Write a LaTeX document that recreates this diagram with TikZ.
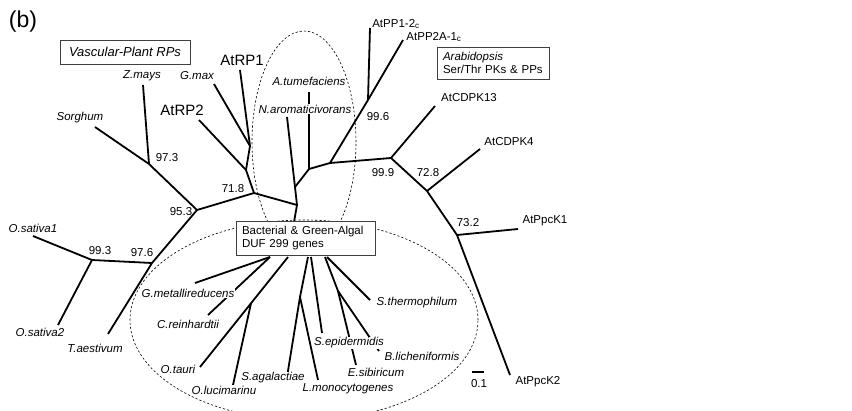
\documentclass[tikz,border=0pt]{standalone}
\usepackage{fontspec}
\setmainfont{Liberation Sans}
\usetikzlibrary{calc}
\tikzset{
  branch/.style={line width=1.8pt},
  clade/.style={line width=0.6pt,dash pattern=on 2.2pt off 2pt},
  sp/.style={font=\fontsize{11.5}{14}\selectfont\itshape,fill=white,inner sep=0.4pt},
  gene/.style={font=\fontsize{11.5}{14}\selectfont,inner sep=0.4pt},
  bignm/.style={font=\fontsize{15}{17}\selectfont,inner sep=0.4pt},
  groupbox/.style={draw=black!75,line width=0.7pt,fill=white,font=\fontsize{11.5}{13.5}\selectfont,align=left,inner xsep=6pt,inner ysep=5pt,text width=#1}
}
\begin{document}
\begin{tikzpicture}[x=1pt,y=-1pt]
\useasboundingbox (0,0) rectangle (852,410);
\clip (0,0) rectangle (852,410);
\draw[clade](304,142) ellipse [x radius=52pt,y radius=111pt];
\draw[clade](304,320) ellipse [x radius=174pt,y radius=100pt];
\foreach \n/\x/\y in {tSorg/95/127,n973/149/164,tZmay/143/85,n953/197/210,tGmax/214/84,tRP1/240/70,
  nRP1/250/146,nRP2/246/170,tRP2/199/120,n718/254/193,nCtr/297/205,nNar/295/187,tNar/287/117,
  nAtu/309/169,tAtu/309/92,nPP/330/163,n996/368/100,tPP12/370/28,tPP2A/403/40,n999/391/158,
  tCD13/435/106,n728/427/191,tCD4/480/149,n732/457/235,tPK1/518/229,tPK2/510/375,n976/152/263,
  tTae/108/334,n993/92/260,tOs1/33/236,tOs2/58/325,eTop/294/222,e1/270/257,tGme/195/283,
  tCre/208/315,e2/288/257,tOta/200/367,tOlu/233/385,e3/308/257,nSag/300/297,tSag/287/377,
  tLmo/318/380,e4/311/257,tSep/322/333,e5/325/257,nEsi/338/291,tEsi/356/365,tBli/379/351,
  e6/327/257,tSth/370/300,sb1/472/372,sb2/484/372}
  {\coordinate(\n) at (\x,\y);}
\coordinate(nOlu) at ($(e2)!0.42!(tOta)$);
\foreach \a/\b in {tSorg/n973,tZmay/n973,n973/n953,n953/n718,n718/nRP2,nRP2/nRP1,nRP1/tGmax,
  nRP1/tRP1,nRP2/tRP2,n718/nCtr,nCtr/nNar,nNar/tNar,nNar/nAtu,nAtu/tAtu,nAtu/nPP,nPP/n996,
  n996/tPP2A,n996/tPP12,nPP/n999,n999/tCD13,n999/n728,n728/tCD4,n728/n732,n732/tPK1,n732/tPK2,
  n953/n976,n976/tTae,n976/n993,n993/tOs1,n993/tOs2,nCtr/eTop,e1/tGme,e1/tCre,e2/tOta,
  nOlu/tOlu,e3/nSag,nSag/tSag,nSag/tLmo,e4/tSep,e5/nEsi,nEsi/tEsi,nEsi/tBli,e6/tSth,sb1/sb2}
  {\draw[branch](\a)--(\b);}
\foreach \n/\x/\y/\t in {lSorg/80/118/Sorghum,lZmay/142/76/Z.mays,lGmax/197/76/G.max,
  lAtu/309/81/A.tumefaciens,lNar/305/109/N.aromaticivorans,lOs1/33/228/O.sativa1,
  lOs2/40/332/O.sativa2,lTae/95/348/T.aestivum,lGme/188/293/G.metallireducens,
  lCre/188/324/C.reinhardtii,lOta/178/369/O.tauri,lOlu/224/390/O.lucimarinu,
  lSag/273/378/S.agalactiae,lLmo/348/389/L.monocytogenes,lSep/349/343/S.epidermidis,
  lEsi/376/372/E.sibiricum,lBli/422/356/B.licheniformis,lSth/417/303/S.thermophilum}
  {\node[sp](\n) at (\x,\y) {\t};}
\foreach \n/\x/\y/\t in {lPP12/396/24/AtPP1-2\textsubscript{c},lPP2A/434/37/AtPP2A-1\textsubscript{c},
  lCD13/469/98/AtCDPK13,lCD4/509/142/AtCDPK4,lPK1/545/221/AtPpcK1,lPK2/538/382/AtPpcK2,
  bs973/167/158/97.3,bs718/233/189/71.8,bs953/181/212/95.3,bs993/100/251/99.3,bs976/142/253/97.6,
  bs996/378/117/99.6,bs999/383/173/99.9,bs728/428/173/72.8,bs732/468/223/73.2,lScale/479/384/0.1}
  {\node[gene](\n) at (\x,\y) {\t};}
\node[bignm](lRP1) at (242,60) {AtRP1};
\node[bignm](lRP2) at (182,110) {AtRP2};
\node[font=\fontsize{23}{26}\selectfont](lPanel) at (23,22) {(b)};
\node[groupbox=100pt](gArab) at (493,63) {\textit{Arabidopsis}\\Ser/Thr PKs \& PPs};
\node[groupbox=127pt](gBact) at (305.5,238) {Bacterial \& Green-Algal\\DUF 299 genes};
\node[draw=black!75,line width=0.7pt,minimum width=130pt,minimum height=24pt,
  font=\fontsize{13}{15}\selectfont\itshape](gVasc) at (125,52) {Vascular-Plant RPs};
\end{tikzpicture}
\end{document}
